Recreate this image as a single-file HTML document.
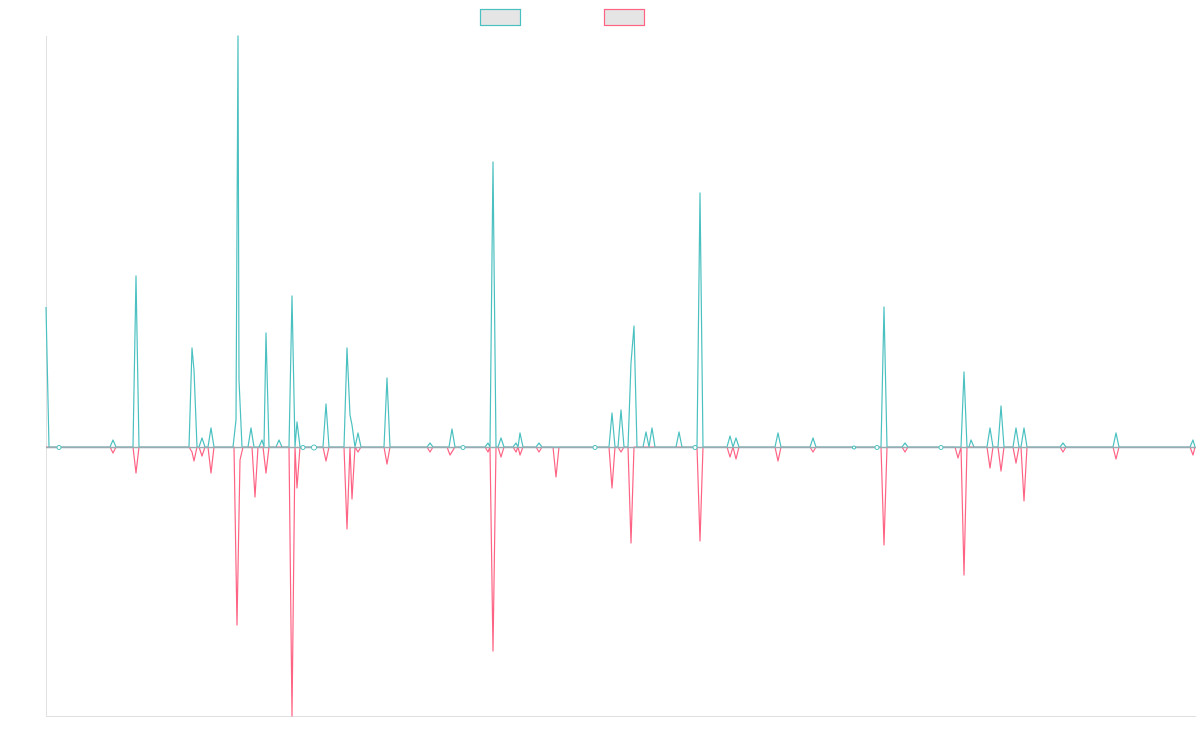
<!DOCTYPE html>
<html><head><meta charset="utf-8"><style>html,body{margin:0;padding:0;background:#fff;width:1200px;height:750px;overflow:hidden}</style></head>
<body>
<svg width="1200" height="750" viewBox="0 0 1200 750" xmlns="http://www.w3.org/2000/svg">
<rect x="480.5" y="9.5" width="40" height="16" fill="#e5e5e5" stroke="#4bc0c0" stroke-width="1.2"/>
<rect x="604.5" y="9.5" width="40" height="16" fill="#e5e5e5" stroke="#ff6384" stroke-width="1.2"/>
<line x1="46.5" y1="36" x2="46.5" y2="716" stroke="#e0e0e0"/>
<line x1="46" y1="716.5" x2="1196" y2="716.5" stroke="#e0e0e0"/>
<g fill="none" stroke-width="1.2" stroke-linejoin="round">
<path stroke="#ff6384" d="M46 447 L110 447 L113 453 L116 447 L133 447 L136 473 L139 447 L189 447 L192 452 L194 461 L197 447 L199 447 L202 456 L205 447 L208 447 L211 473 L214 447 L234 447 L237 625 L240 460 L243 447 L252 447 L255 497 L258 447 L263 447 L266 473 L269 447 L289 447 L292 716 L295 447 L297 488 L300 447 L323 447 L326 461 L329 447 L344 447 L347 529 L350 447 L352 499 L355 447 L358 452 L361 447 L384 447 L387 464 L390 447 L427 447 L430 452 L433 447 L447 447 L450 455 L455 447 L485 447 L488 452 L490 447 L493 651 L496 447 L498 447 L501 457 L504 447 L513 447 L516 452 L518 447 L520 455 L523 447 L536 447 L539 452 L542 447 L553 447 L556 477 L559 447 L609 447 L612 488 L615 447 L618 447 L621 452 L624 447 L628 447 L631 543 L634 447 L697 447 L700 541 L703 447 L727 447 L730 457 L733 447 L736 459 L739 447 L775 447 L778 461 L781 447 L810 447 L813 452 L816 447 L881 447 L884 545 L887 447 L902 447 L905 452 L908 447 L955 447 L958 458 L961 447 L964 575 L967 447 L987 447 L990 468 L993 447 L998 447 L1001 471 L1004 447 L1013 447 L1016 463 L1019 447 L1021 447 L1024 501 L1027 447 L1060 447 L1063 452 L1066 447 L1113 447 L1116 459 L1119 447 L1190 447 L1193 455 L1195 447"/>
<path stroke="#4bc0c0" d="M46 307 L49 447 L110 447 L113 440 L116 447 L133 447 L136 276 L139 447 L189 447 L192 348 L194 370 L197 447 L199 447 L202 438 L205 447 L208 447 L211 428 L214 447 L233 447 L236 420 L238 36 L239 380 L242 447 L248 447 L251 428 L254 447 L259 447 L262 440 L264 447 L266 333 L269 447 L276 447 L279 440 L282 447 L289 447 L292 296 L295 447 L297 422 L300 447 L323 447 L326 404 L329 447 L344 447 L347 348 L350 415 L352 425 L355 447 L358 433 L361 447 L384 447 L387 378 L390 447 L427 447 L430 443 L433 447 L449 447 L452 429 L455 447 L485 447 L488 443 L490 447 L493 162 L496 447 L498 447 L501 438 L504 447 L513 447 L516 443 L518 447 L520 433 L523 447 L536 447 L539 443 L542 447 L609 447 L612 413 L615 447 L618 447 L621 410 L624 447 L628 447 L631 363 L634 326 L637 447 L643 447 L646 432 L649 447 L652 428 L655 447 L676 447 L679 432 L682 447 L697 447 L700 193 L703 447 L727 447 L730 436 L733 447 L736 438 L739 447 L775 447 L778 433 L781 447 L810 447 L813 438 L816 447 L881 447 L884 307 L887 447 L902 447 L905 443 L908 447 L961 447 L964 372 L967 447 L969 447 L971 440 L974 447 L987 447 L990 428 L993 447 L998 447 L1001 406 L1004 447 L1013 447 L1016 428 L1019 447 L1021 447 L1024 428 L1027 447 L1060 447 L1063 443 L1066 447 L1113 447 L1116 433 L1119 447 L1190 447 L1193 440 L1195 447"/>
</g>
<line x1="46" y1="447.5" x2="1196" y2="447.5" stroke="#9aacb2" stroke-width="1.4"/>
<g fill="#fff" stroke="#4bc0c0" stroke-width="1">
<circle cx="59" cy="447.5" r="2"/><circle cx="303" cy="447.5" r="2"/><circle cx="314" cy="447.5" r="2.5"/>
<circle cx="463" cy="447.5" r="2"/><circle cx="595" cy="447.5" r="2"/><circle cx="695" cy="447.5" r="2"/>
<circle cx="854" cy="447.5" r="1.5"/><circle cx="877" cy="447.5" r="2"/><circle cx="941" cy="447.5" r="2"/>
</g>
</svg>
</body></html>
